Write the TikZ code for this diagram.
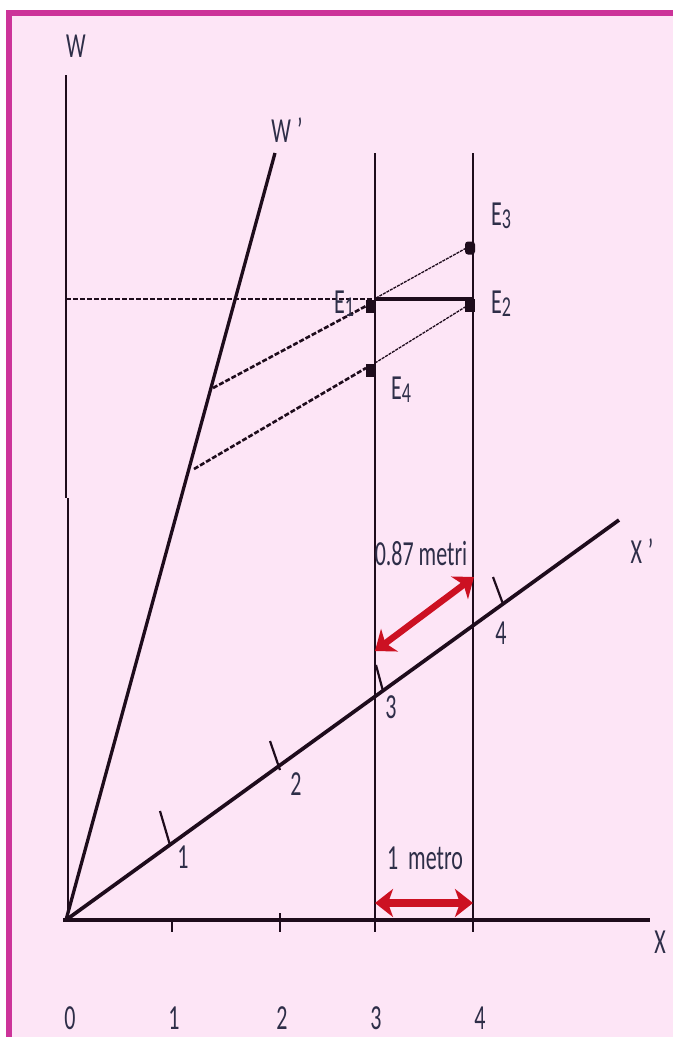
\documentclass[tikz,border=0pt]{standalone}
\usepackage{fontspec}
\setmainfont{Carlito}
\usetikzlibrary{arrows.meta}
\definecolor{bgpink}{RGB}{253,229,246}
\definecolor{framecol}{RGB}{204,51,153}
\definecolor{ink}{RGB}{30,12,28}
\definecolor{txt}{RGB}{46,46,72}
\definecolor{arrred}{RGB}{204,17,34}
\newcommand{\lbl}[1]{\scalebox{1}[1.6]{#1}}
\newcommand{\esub}[1]{E\raisebox{-2pt}{\fontsize{18}{18}\selectfont #1}}
\begin{document}
\begin{tikzpicture}[x=1pt,y=-1pt,
  lab/.style={text=txt,font=\fontsize{22}{22}\selectfont,inner sep=0pt},
  mainaxis/.style={ink,line width=4.2pt},
  thinaxis/.style={ink,line width=2pt},
  obl/.style={ink,line width=3.3pt},
  guide/.style={ink,line width=1.4pt},
  tickmk/.style={ink,line width=2.2pt},
  hdash/.style={ink,line width=1.4pt,dash pattern=on 5pt off 2pt},
  thdash/.style={ink,line width=2.6pt,dash pattern=on 5pt off 2pt},
  tndash/.style={ink,line width=1.3pt,dash pattern=on 3pt off 1pt},
  evdot/.style={fill=ink,inner sep=0pt,minimum width=10pt,minimum height=13pt},
  redarr/.style={arrred,{Stealth[length=18pt,width=28pt,inset=5pt]}-{Stealth[length=18pt,width=28pt,inset=5pt]}}
]
\useasboundingbox (0,0) rectangle (673,1037);
\fill[white] (0,0) rectangle (673,1037);
\fill[bgpink] (6,10) rectangle (673,1037);
\fill[framecol] (6,10) rectangle (673,15.5);
\fill[framecol] (6,10) rectangle (12,1037);

% coordinates
\coordinate (O) at (66,920);
\coordinate (Wtop) at (66,75);
\coordinate (Wj1) at (66,498);
\coordinate (Wj2) at (68,498);
\coordinate (Wbot) at (68,920);
\coordinate (Xstart) at (63,920);
\coordinate (Xend) at (650,920);
\coordinate (Wp) at (275,153);
\coordinate (Xp) at (619,520);
\coordinate (L3t) at (375,153);
\coordinate (L3b) at (375,932);
\coordinate (L4t) at (473,153);
\coordinate (L4b) at (473,932);
\coordinate (T1a) at (172,920);
\coordinate (T1b) at (172,932);
\coordinate (T2a) at (280,913);
\coordinate (T2b) at (280,932);
\coordinate (k1a) at (160,811);
\coordinate (k1b) at (170,845);
\coordinate (k2a) at (270,741);
\coordinate (k2b) at (280,770);
\coordinate (k3a) at (376,665);
\coordinate (k3b) at (383,691);
\coordinate (k4a) at (493,577);
\coordinate (k4b) at (503,604);
\coordinate (Hd) at (66,299);
\coordinate (E1) at (375,299);
\coordinate (E2) at (473,299);
\coordinate (E1r) at (376,298);
\coordinate (E3l) at (470,246);
\coordinate (E4r) at (375,363);
\coordinate (E2l) at (470,304);
\coordinate (A1) at (213,388);
\coordinate (B1) at (366,306);
\coordinate (A2) at (194,469);
\coordinate (B2) at (366,368);
\coordinate (R1) at (375,903);
\coordinate (R2) at (473,903);
\coordinate (D1) at (375,651);
\coordinate (D2) at (474,577);

% axes
\draw[thinaxis] (Wtop) -- (Wj1);
\draw[thinaxis] (Wj2) -- (Wbot);
\draw[mainaxis] (Xstart) -- (Xend);
\draw[obl] (O) -- (Wp);
\draw[obl,line width=3.7pt] (O) -- (Xp);
\draw[guide] (L3t) -- (L3b);
\draw[guide] (L4t) -- (L4b);
\draw[tickmk] (T1a) -- (T1b);
\draw[tickmk] (T2a) -- (T2b);
\draw[tickmk] (k1a) -- (k1b);
\draw[tickmk] (k2a) -- (k2b);
\draw[tickmk] (k3a) -- (k3b);
\draw[tickmk] (k4a) -- (k4b);

% events
\draw[hdash] (Hd) -- (E1);
\draw[ink,line width=4pt] (E1) -- (E2);
\draw[tndash] (E1r) -- (E3l);
\draw[tndash] (E4r) -- (E2l);
\draw[thdash] (A1) -- (B1);
\draw[thdash] (A2) -- (B2);
\node[evdot] (m1) at (371,306.5) {};
\node[evdot] (m2) at (470,305.5) {};
\node[evdot,rounded corners=3pt] (m3) at (470,248) {};
\node[evdot] (m4) at (370.5,370.5) {};

% red arrows
\draw[redarr,line width=8pt] (R1) -- (R2);
\draw[redarr,line width=6.5pt] (D1) -- (D2);

% labels
\node[lab] (lW) at (76,46) {\lbl{W}};
\node[lab] (lWp) at (287,130) {\lbl{W\hspace{6pt}’}};
\node[lab] (lXp) at (642,551) {\lbl{X\hspace{6pt}’}};
\node[lab] (lX) at (660,942) {\lbl{X}};
\node[lab] (lE1) at (344,304) {\lbl{\esub{1}}};
\node[lab] (lE2) at (501,304) {\lbl{\esub{2}}};
\node[lab] (lE3) at (501,216) {\lbl{\esub{3}}};
\node[lab] (lE4) at (401,390) {\lbl{\esub{4}}};
\node[lab] (l087) at (421,554) {\lbl{0.87 metri}};
\node[lab] (l1m) at (425,858) {\lbl{1\ \ metro}};
\node[lab] (p1) at (183,857) {\lbl{1}};
\node[lab] (p2) at (296,784) {\lbl{2}};
\node[lab] (p3) at (391,707) {\lbl{3}};
\node[lab] (p4) at (501,633) {\lbl{4}};
\node[lab] (b0) at (70,1018) {\lbl{0}};
\node[lab] (b1) at (174,1018) {\lbl{1}};
\node[lab] (b2) at (282,1018) {\lbl{2}};
\node[lab] (b3) at (376,1018) {\lbl{3}};
\node[lab] (b4) at (480,1018) {\lbl{4}};
\end{tikzpicture}
\end{document}
